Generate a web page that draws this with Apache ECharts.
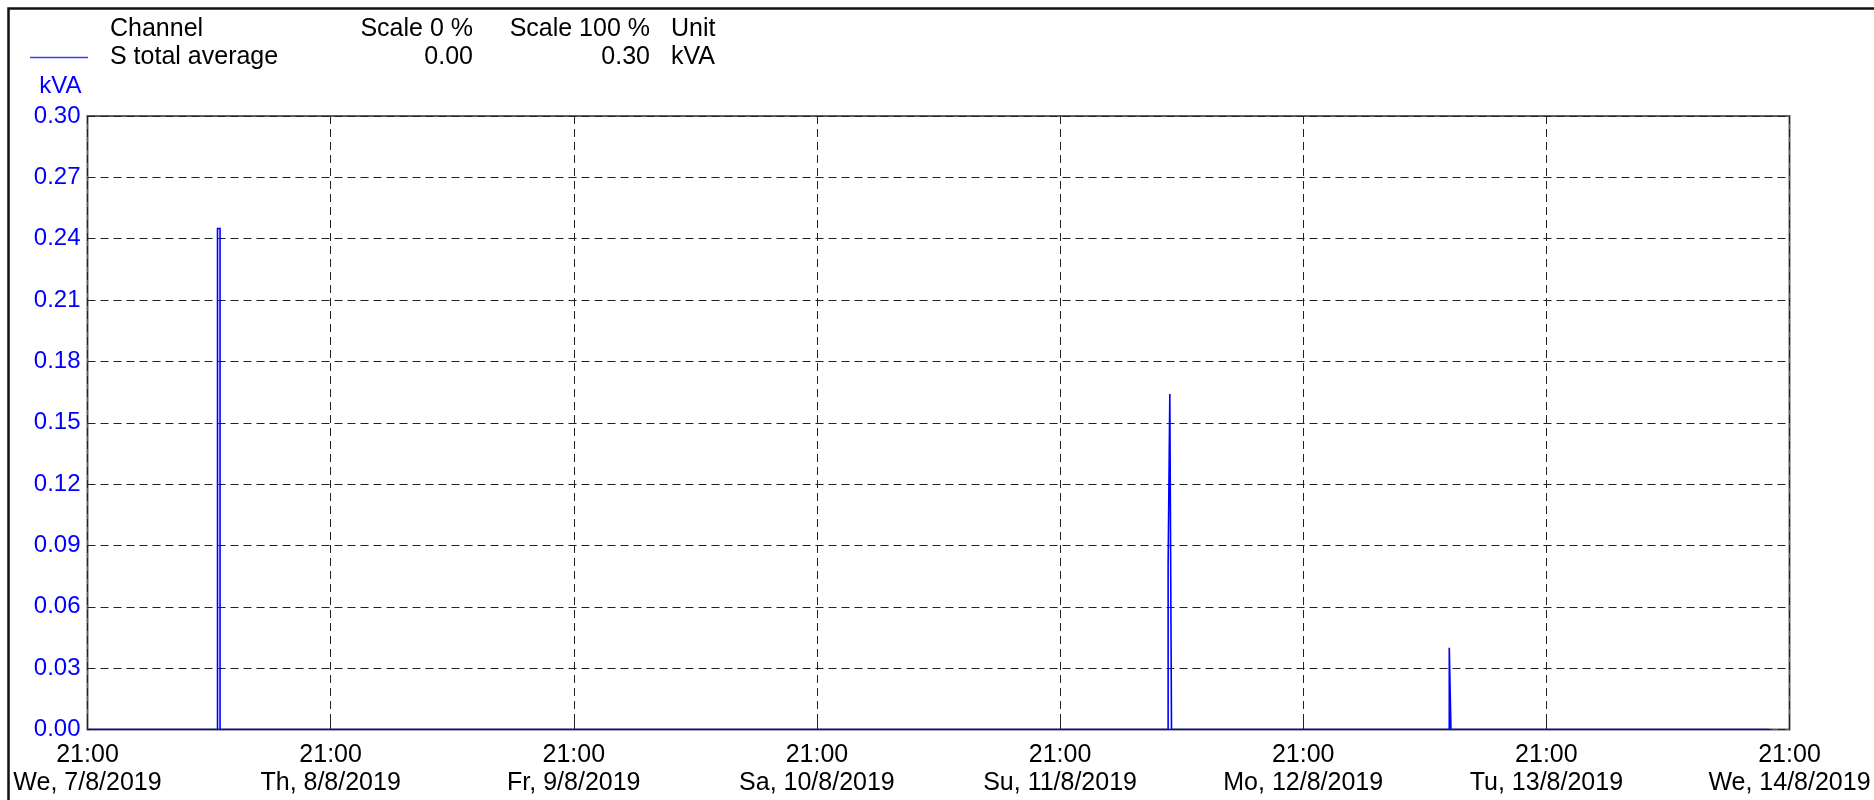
<!DOCTYPE html>
<html>
<head>
<meta charset="utf-8">
<title>S total average</title>
<script src="https://cdn.jsdelivr.net/npm/echarts@6/dist/echarts.min.js"></script>
<style>
  html, body { margin: 0; padding: 0; background: #ffffff; }
  #chart { width: 1874px; height: 800px; }
</style>
</head>
<body>
<div id="chart"></div>
<script>
// Channel description shown in the header table
const channelName = 'S total average';
const unit = 'kVA';
const scaleMin = 0.00;
const scaleMax = 0.30;
const yInterval = 0.03;

// Time range of the recording
const rangeStart = '2019-08-07 21:00';
const rangeEnd = '2019-08-14 21:00';

// Tick labels: one per day at 21:00
const tickTime = '21:00';
const tickDays = [
  'We, 7/8/2019', 'Th, 8/8/2019', 'Fr, 9/8/2019', 'Sa, 10/8/2019',
  'Su, 11/8/2019', 'Mo, 12/8/2019', 'Tu, 13/8/2019', 'We, 14/8/2019'
];

// Recorded samples (value held until the next sample)
const sampleTimes = [
  '2019-08-07 21:00',
  '2019-08-08 09:50',
  '2019-08-08 10:05',
  '2019-08-12 07:40',
  '2019-08-12 07:50',
  '2019-08-12 08:00',
  '2019-08-13 11:25',
  '2019-08-13 11:35',
  '2019-08-14 19:00'
];
const sampleValues = [0.000, 0.245, 0.000, 0.081, 0.164, 0.000, 0.040, 0.000, 0.000];

function toMs(s) {
  const [d, t] = s.split(' ');
  const [Y, M, D] = d.split('-').map(Number);
  const [h, m] = t.split(':').map(Number);
  return Date.UTC(Y, M - 1, D, h, m);
}
const DAY = 24 * 3600 * 1000;
const xMin = toMs(rangeStart);
const xMax = toMs(rangeEnd);
const seriesData = sampleTimes.map((t, i) => [toMs(t), sampleValues[i]]);

const FONT = "'Liberation Sans', Arial, sans-serif";
const BLUE = '#0000ff';

const chart = echarts.init(document.getElementById('chart'), null, { renderer: 'canvas' });

chart.setOption({
  animation: false,
  backgroundColor: '#ffffff',
  grid: {
    left: 87.5, right: 84.5, top: 116, bottom: 70.5,
    show: true, borderColor: '#5f5f5f', borderWidth: 2, backgroundColor: 'transparent'
  },
  xAxis: {
    type: 'value',
    min: xMin,
    max: xMax,
    interval: DAY,
    axisLine: { show: false },
    axisTick: { show: true, inside: true, length: 8, lineStyle: { color: '#222', width: 1 } },
    splitLine: { show: true, lineStyle: { color: '#222', width: 1, type: [8, 5] } },
    axisLabel: {
      color: '#000', fontFamily: FONT, fontSize: 25, lineHeight: 28, margin: 12,
      showMinLabel: true, showMaxLabel: true,
      formatter: function (v) {
        const i = Math.round((v - xMin) / DAY);
        return tickTime + '\n' + (tickDays[i] || '');
      }
    }
  },
  yAxis: {
    type: 'value',
    min: scaleMin,
    max: scaleMax,
    interval: yInterval,
    name: unit,
    nameLocation: 'end',
    nameGap: 18,
    nameTextStyle: { color: BLUE, fontFamily: FONT, fontSize: 24, align: 'right', verticalAlign: 'bottom', padding: [0, 6, 0, 0] },
    axisLine: { show: false },
    axisTick: { show: false },
    splitLine: { show: true, lineStyle: { color: '#222', width: 1, type: [8, 5] } },
    axisLabel: {
      color: BLUE, fontFamily: FONT, fontSize: 24, margin: 7,
      formatter: function (v) { return v.toFixed(2); }
    }
  },
  series: [{
    name: channelName,
    type: 'line',
    step: 'end',
    showSymbol: false,
    symbol: 'none',
    sampling: null,
    lineStyle: { color: BLUE, width: 1.6, join: 'miter' },
    data: seriesData,
    z: 3
  }],
  graphic: [
    // outer frame
    { type: 'rect', z: 10, shape: { x: 8.5, y: 8.5, width: 4000, height: 4000 },
      style: { fill: 'none', stroke: '#111', lineWidth: 2.5 } },
    // header table
    { type: 'text', z: 10, style: { x: 110, y: 29, text: 'Channel', font: '25px ' + FONT, fill: '#000', align: 'left', verticalAlign: 'middle' } },
    { type: 'text', z: 10, style: { x: 473, y: 29, text: 'Scale 0 %', font: '25px ' + FONT, fill: '#000', align: 'right', verticalAlign: 'middle' } },
    { type: 'text', z: 10, style: { x: 650, y: 29, text: 'Scale 100 %', font: '25px ' + FONT, fill: '#000', align: 'right', verticalAlign: 'middle' } },
    { type: 'text', z: 10, style: { x: 671, y: 29, text: 'Unit', font: '25px ' + FONT, fill: '#000', align: 'left', verticalAlign: 'middle' } },
    { type: 'line', z: 10, shape: { x1: 30, y1: 57.5, x2: 88, y2: 57.5 }, style: { stroke: '#3c3cff', lineWidth: 1.6 } },
    { type: 'text', z: 10, style: { x: 110, y: 57.5, text: channelName, font: '25px ' + FONT, fill: '#000', align: 'left', verticalAlign: 'middle' } },
    { type: 'text', z: 10, style: { x: 473, y: 57.5, text: scaleMin.toFixed(2), font: '25px ' + FONT, fill: '#000', align: 'right', verticalAlign: 'middle' } },
    { type: 'text', z: 10, style: { x: 650, y: 57.5, text: scaleMax.toFixed(2), font: '25px ' + FONT, fill: '#000', align: 'right', verticalAlign: 'middle' } },
    { type: 'text', z: 10, style: { x: 671, y: 57.5, text: unit, font: '25px ' + FONT, fill: '#000', align: 'left', verticalAlign: 'middle' } }
  ]
});
</script>
</body>
</html>
